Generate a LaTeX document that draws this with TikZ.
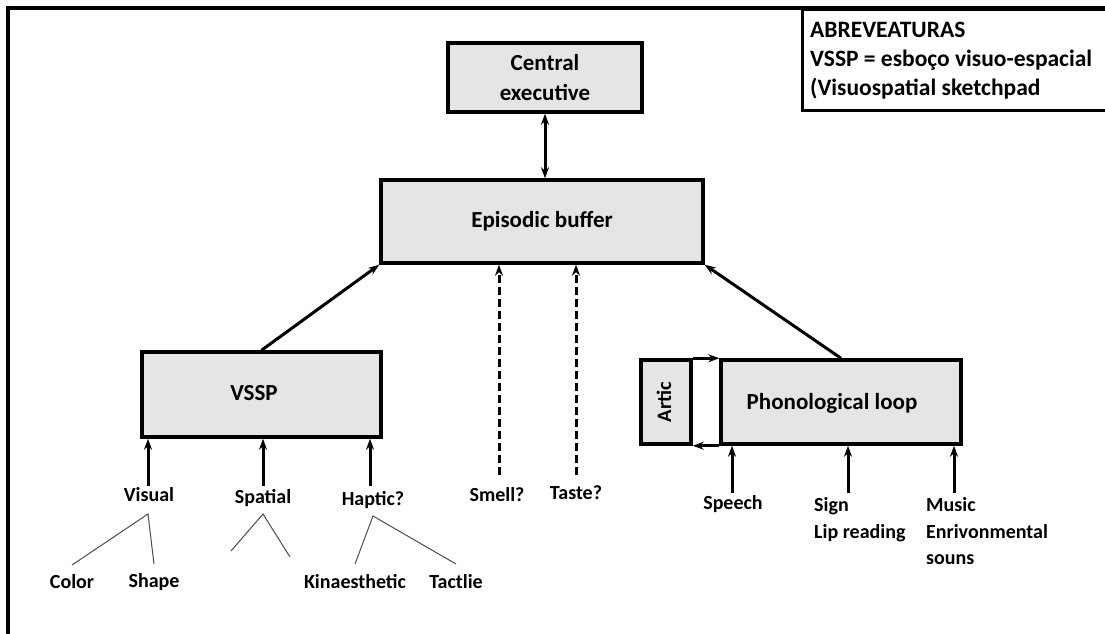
\documentclass[tikz,border=0pt]{standalone}
\usepackage{fontspec}
\setmainfont{Carlito}
\usetikzlibrary{arrows.meta}
\begin{document}
\begin{tikzpicture}[x=1pt,y=-1pt,
  box/.style={draw=black,line width=3.5pt,fill=gray!20,inner sep=0pt,font=\fontsize{23}{30}\selectfont\bfseries,align=center},
  boxtext/.style={font=\fontsize{23}{30}\selectfont\bfseries,inner sep=0pt},
  lbl/.style={font=\fontsize{20}{26.5}\selectfont\bfseries,inner sep=0pt,anchor=base},
  lbll/.style={lbl,anchor=base west},
  arr/.style={line width=3pt,-{Stealth[length=11pt,width=8pt]}},
  darr/.style={arr,dash pattern=on 8pt off 4pt},
  dbl/.style={line width=3pt,{Stealth[length=11pt,width=8pt]}-{Stealth[length=11pt,width=8pt]}},
  tree/.style={line width=1pt,draw=black!70}]
\useasboundingbox (0,0) rectangle (1105,634);
\fill[white] (0,0) rectangle (1105,634);
% outer frame
\draw[line width=3.5pt] (8,634) -- (8,8) -- (1105,8);
% abbreviations
\node[draw=black,line width=3pt,minimum width=310pt,minimum height=100pt,inner sep=0pt] (abbr) at (957,60) {};
\node[font=\fontsize{23.5}{29}\selectfont\bfseries,align=left,anchor=north west,inner sep=0pt] (abbrt) at (810,22) {ABREVEATURAS\\VSSP = esboço visuo-espacial\\(Visuospatial sketchpad};
% boxes
\node[box,minimum width=194pt,minimum height=69pt] (ce) at (545,77.5) {Central\\executive};
\node[box,minimum width=322pt,minimum height=83pt] (eb) at (542,221.5) {Episodic buffer};
\node[box,minimum width=239pt,minimum height=85pt] (vssp) at (261.5,394.5) {};
\node[boxtext] (vsspt) at (254,393) {VSSP};
\node[box,minimum width=240pt,minimum height=84pt] (phono) at (841,402) {};
\node[boxtext] (phonot) at (832,403) {Phonological loop};
\node[box,minimum width=50pt,minimum height=84pt] (artic) at (666,402) {};
\node[font=\fontsize{20.5}{24}\selectfont\bfseries,inner sep=0pt,rotate=90] (artict) at (664,402) {Artic};
% main connectors
\draw[dbl] (ce.south) -- (ce.south |- eb.north);
\draw[arr] (vssp.north) -- (eb.south west);
\draw[arr] (phono.north) -- (eb.south east);
\draw[arr] (artic.north east) -- (phono.north west);
\draw[arr] (phono.south west) -- (artic.south east);
% VSSP inputs
\node[lbl] (visual) at (149,501) {Visual};
\node[lbl] (spatial) at (263,503) {Spatial};
\node[lbl] (haptic) at (373,505) {Haptic?};
\coordinate (vtop) at (148,486);
\coordinate (stop) at (263,486);
\coordinate (htop) at (370,486);
\draw[arr] (vtop) -- (vtop |- vssp.south);
\draw[arr] (stop) -- (stop |- vssp.south);
\draw[arr] (htop) -- (htop |- vssp.south);
% trees
\node[lbl] (color) at (72,588) {Color};
\node[lbl] (shape) at (154,587) {Shape};
\node[lbl] (kin) at (355,588) {Kinaesthetic};
\node[lbl] (tact) at (456,588) {Tactlie};
\coordinate (va) at (148,514);
\coordinate (sa) at (263,514);
\coordinate (sl) at (231,551);
\coordinate (sr) at (290,557);
\coordinate (ha) at (373,516);
\draw[tree] (72,565) -- (va) -- (154,564);
\draw[tree] (sl) -- (sa) -- (sr);
\draw[tree] (355,564) -- (ha) -- (456,564);
% smell / taste
\node[lbl] (smell) at (497,501) {Smell?};
\node[lbl] (taste) at (576,499) {Taste?};
\coordinate (smtop) at (499,475);
\coordinate (tatop) at (576,475);
\draw[darr] (smtop) -- (smtop |- eb.south);
\draw[darr] (tatop) -- (tatop |- eb.south);
% phonological inputs
\node[lbl] (speech) at (733,509) {Speech};
\node[lbll] (sign) at (814,511) {Sign};
\node[lbll] (lip) at (814,538) {Lip reading};
\node[lbll] (music) at (926,511) {Music};
\node[lbll] (env) at (926,538) {Enrivonmental};
\node[lbll] (souns) at (926,564) {souns};
\coordinate (sptop) at (732,493);
\coordinate (sitop) at (848,493);
\coordinate (mutop) at (954,493);
\draw[arr] (sptop) -- (sptop |- phono.south);
\draw[arr] (sitop) -- (sitop |- phono.south);
\draw[arr] (mutop) -- (mutop |- phono.south);
\end{tikzpicture}
\end{document}
